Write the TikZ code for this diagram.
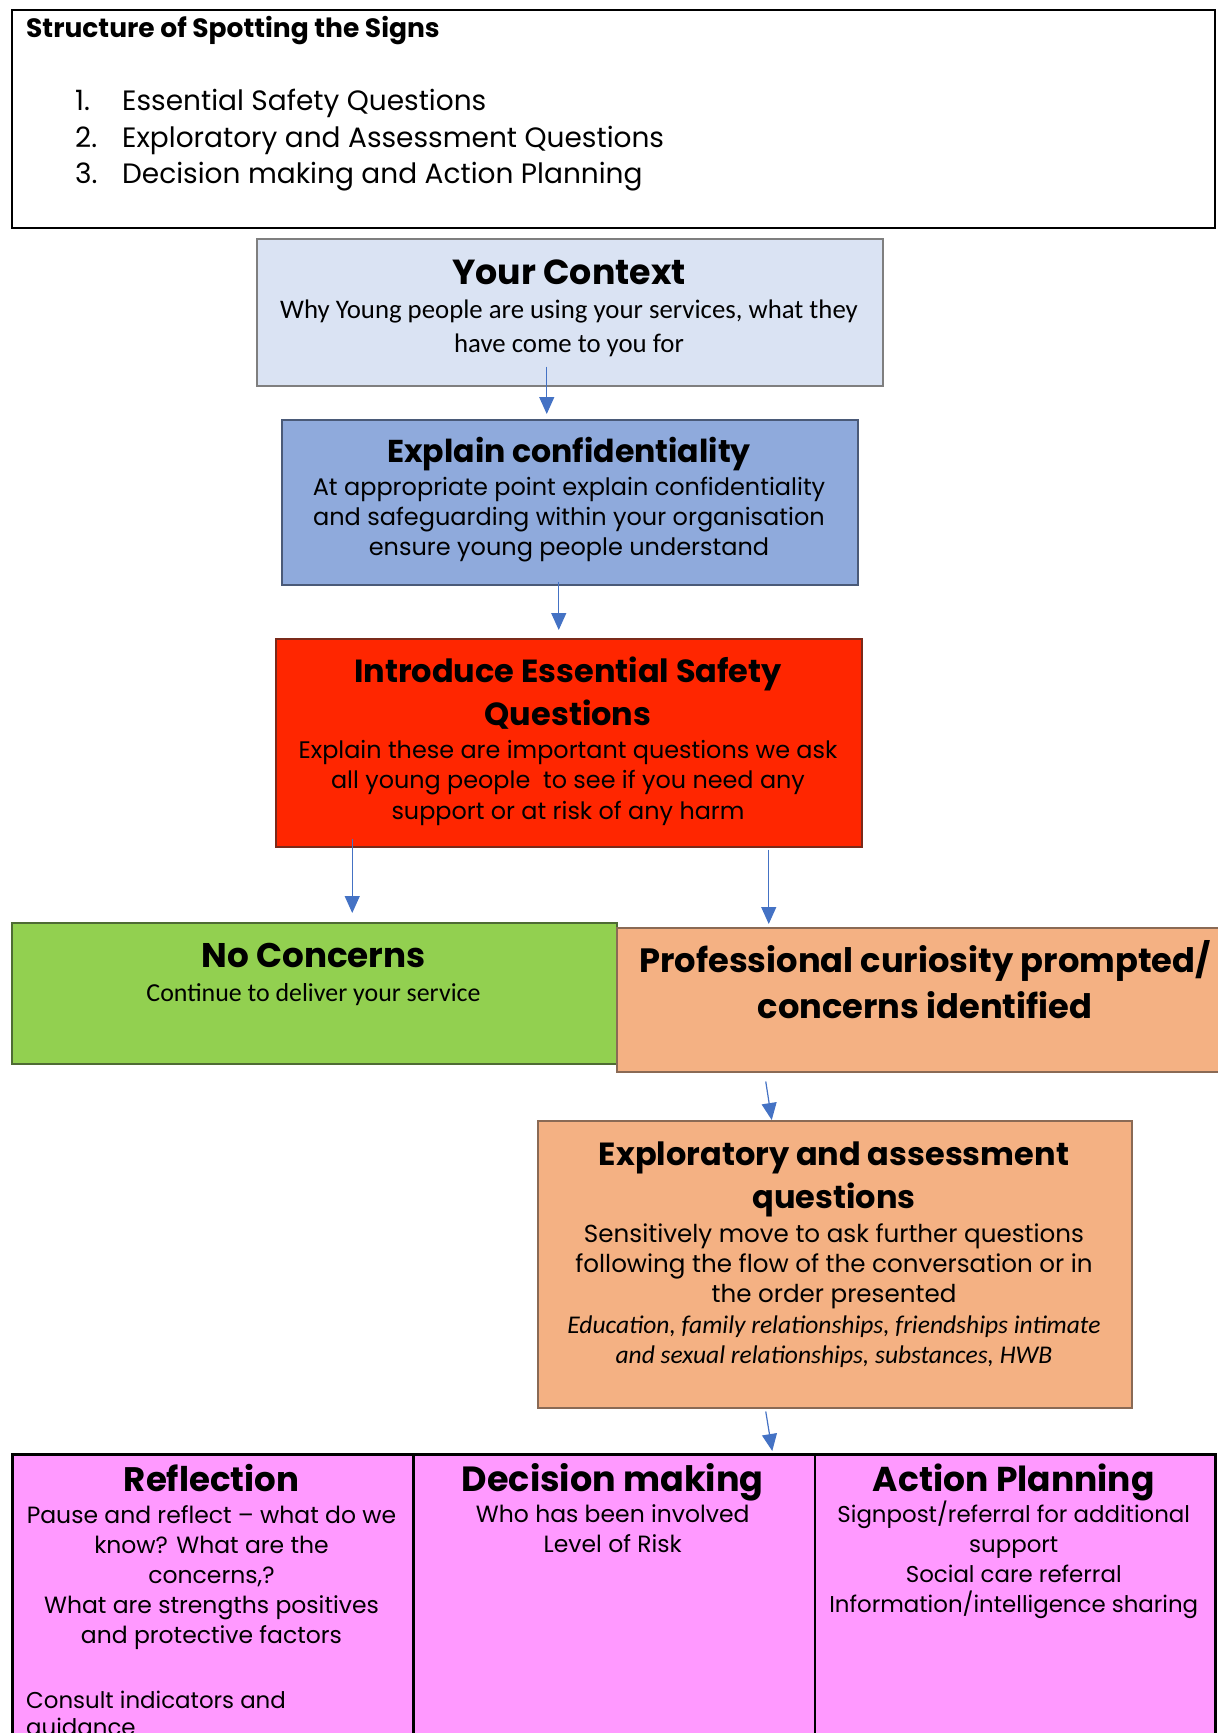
\documentclass[tikz,border=0pt]{standalone}
\usepackage{fontspec}
\setmainfont{Poppins}
\newfontfamily\calib{Carlito}
\usetikzlibrary{arrows.meta}
\definecolor{ctxfill}{HTML}{DAE3F3}
\definecolor{ctxline}{HTML}{7F7F7F}
\definecolor{explfill}{HTML}{8FAADC}
\definecolor{explline}{HTML}{4A5A78}
\definecolor{redfill}{HTML}{FF2600}
\definecolor{redline}{HTML}{7A2A1A}
\definecolor{greenfill}{HTML}{92D050}
\definecolor{greenline}{HTML}{4E6B34}
\definecolor{peach}{HTML}{F4B183}
\definecolor{peachline}{HTML}{8A6A55}
\definecolor{pinkfill}{HTML}{FF99FF}
\definecolor{arrowblue}{HTML}{4472C4}
\tikzset{
  box/.style={draw, rectangle, inner sep=0pt, anchor=north west, line width=1.5pt},
  txt/.style={inner sep=0pt, align=center},
  arr/.style={draw=arrowblue, line width=1.2pt, -{Triangle[length=17pt,width=15pt]}},
}
\newcommand{\fs}[2]{\fontsize{#1}{#2}\selectfont}
\begin{document}
\begin{tikzpicture}[x=1pt,y=-1pt]
\useasboundingbox (0,0) rectangle (1218,1733);
\clip (0,0) rectangle (1218,1733);
% header box
\node[box, draw=black, minimum width=1203pt, minimum height=218pt] (hdr) at (11,9) {};
\node[txt, anchor=west, font=\bfseries\fs{26.5}{30}] (hdrtitle) at (26,31) {Structure of Spotting the Signs};
\node[txt, anchor=base west, font=\fs{28}{32}] (n1) at (75,110.8) {1.};
\node[txt, anchor=base west, font=\fs{28}{32}] (t1) at (122,110.8) {Essential Safety Questions};
\node[txt, anchor=base west, font=\fs{28}{32}] (n2) at (75,147.3) {2.};
\node[txt, anchor=base west, font=\fs{28}{32}] (t2) at (122,147.3) {Exploratory and Assessment Questions};
\node[txt, anchor=base west, font=\fs{28}{32}] (n3) at (75,183.8) {3.};
\node[txt, anchor=base west, font=\fs{28}{32}] (t3) at (122,183.8) {Decision making and Action Planning};
% your context
\node[box, draw=ctxline, fill=ctxfill, minimum width=626pt, minimum height=147pt] (ctx) at (256,238) {};
\node[txt, font=\bfseries\fs{34.8}{40}] (ctxtitle) at (569,272) {Your Context};
\node[txt, font=\calib\fs{26.8}{34}] (ctxbody) at (569,328) {Why Young people are using your services, what they\\have come to you for};
% explain confidentiality
\node[box, draw=explline, fill=explfill, minimum width=576pt, minimum height=165pt] (expl) at (281,419) {};
\node[txt, font=\bfseries\fs{31.6}{38}] (expltitle) at (569,454.3) {Explain confidentiality};
\node[txt, font=\fs{24}{30}] (explbody) at (569,519.3) {At appropriate point explain confidentiality\\and safeguarding within your organisation\\ensure young people understand};
% introduce essential safety questions
\node[box, draw=redline, fill=redfill, minimum width=586pt, minimum height=208pt] (intro) at (275,638) {};
\node[txt, font=\bfseries\fs{32}{43}] (introtitle) at (568,693) {Introduce Essential Safety\\Questions};
\node[txt, font=\fs{23.9}{30.5}] (introbody) at (568,783) {Explain these are important questions we ask\\all young people~ to see if you need any\\support or at risk of any harm};
% no concerns
\node[box, draw=greenline, fill=greenfill, minimum width=605pt, minimum height=141pt] (nc) at (11,922) {};
\node[txt, font=\bfseries\fs{34.2}{40}] (nctitle) at (313.5,955) {No Concerns};
\node[txt, font=\calib\fs{25.9}{30}] (ncbody) at (313.5,994.3) {Continue to deliver your service};
% professional curiosity
\node[box, draw=peachline, fill=peach, minimum width=620pt, minimum height=144pt] (prof) at (616,927) {};
\node[txt, font=\bfseries\fs{33.7}{46}] (proftitle) at (925,979.7) {Professional curiosity prompted/\\concerns identified};
% exploratory
\node[box, draw=peachline, fill=peach, minimum width=594pt, minimum height=287pt] (expq) at (537,1120) {};
\node[txt, font=\bfseries\fs{32}{43}] (expqtitle) at (834,1179) {Exploratory and assessment\\questions};
\node[txt, font=\fs{24.6}{30}] (expqbody) at (834,1266.3) {Sensitively move to ask further questions\\following the flow of the conversation or in\\the order presented};
\node[txt, font=\calib\itshape\fs{25.5}{30}] (expqital) at (834,1342) {Education, family relationships, friendships intimate\\and sexual relationships, substances, HWB};
% bottom table
\node[box, draw=black, line width=2.5pt, fill=pinkfill, minimum width=401pt, minimum height=320pt] (refl) at (11,1453) {};
\node[box, draw=black, line width=2.5pt, fill=pinkfill, minimum width=401.5pt, minimum height=320pt] (dec) at (412,1453) {};
\node[box, draw=black, line width=2.5pt, fill=pinkfill, minimum width=400.5pt, minimum height=320pt] (act) at (813.5,1453) {};
\node[txt, anchor=base, font=\bfseries\fs{34}{40}] (refltitle) at (211.5,1491.5) {Reflection};
\node[txt, font=\fs{23.5}{30}] (reflbody) at (211.5,1577.3) {Pause and reflect -- what do we\\know? What are the\\concerns,?\\What are strengths positives\\and protective factors};
\node[txt, font=\fs{22.9}{26}, anchor=west] (reflcons) at (26,1700) {Consult indicators and};
\node[txt, font=\fs{22.9}{26}, anchor=west] (reflguid) at (26,1730) {guidance};
\node[txt, anchor=base, font=\bfseries\fs{35}{40}] (dectitle) at (612.75,1491.5) {Decision making};
\node[txt, font=\fs{23.5}{30}] (decbody) at (612.75,1529) {Who has been involved\\Level of Risk};
\node[txt, anchor=base, font=\bfseries\fs{34.5}{40}] (acttitle) at (1013.75,1491.5) {Action Planning};
\node[txt, font=\fs{22.9}{30}] (actbody) at (1013.75,1560) {Signpost/referral for additional\\support\\Social care referral\\Information/intelligence sharing};
% arrows
\draw[arr] ([xshift=-23pt,yshift=20pt]ctx.south) -- ([xshift=-23pt,yshift=5pt]expl.north);
\draw[arr] ([xshift=-11pt,yshift=4pt]expl.south) -- ([xshift=-10pt,yshift=8pt]intro.north);
\draw[arr] ([xshift=-216.5pt,yshift=9pt]intro.south) -- ([xshift=38pt,yshift=9pt]nc.north);
\draw[arr] ([xshift=200pt,yshift=-2pt]intro.south) -- ([xshift=-158pt,yshift=3pt]prof.north);
\draw[arr] ([xshift=-161pt,yshift=-9pt]prof.south) -- ([xshift=-63pt]expq.north);
\draw[arr] ([xshift=-69pt,yshift=-3pt]expq.south) -- ([xshift=158.25pt,yshift=2pt]dec.north);
\end{tikzpicture}
\end{document}
